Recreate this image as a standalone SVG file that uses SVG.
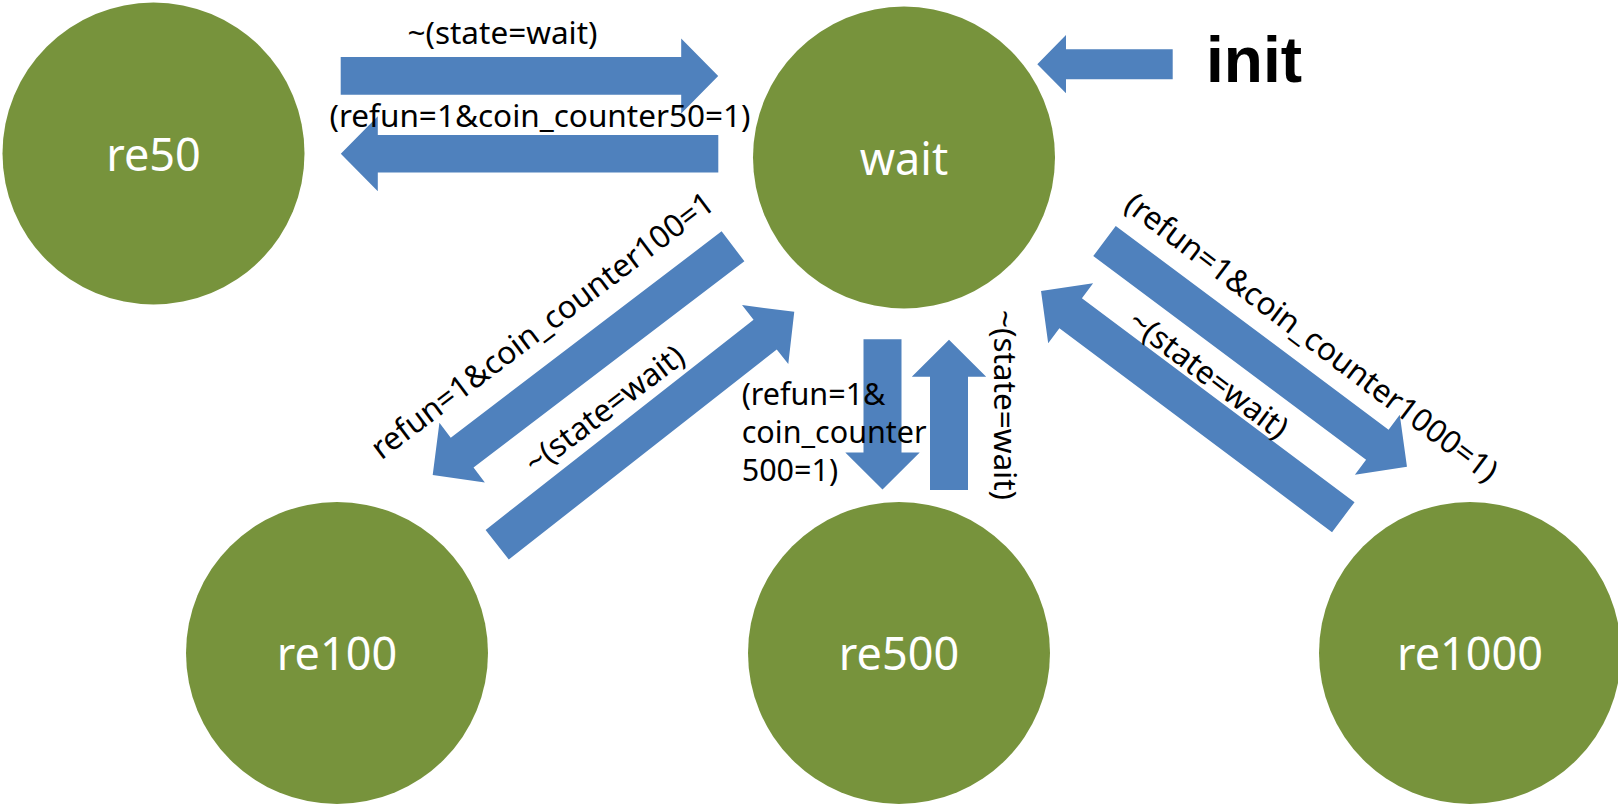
<svg xmlns="http://www.w3.org/2000/svg" width="1618" height="808" viewBox="0 0 1618 808">
<style>
.node{fill:#77933C;}
.nlabel{font-family:"Noto Sans","Open Sans",sans-serif;font-size:45px;fill:#FFFFFF;text-anchor:middle;}
.arr{fill:#4F81BD;}
.lbl{font-family:"Noto Sans","Open Sans",sans-serif;font-size:31.5px;fill:#000000;}
.mid{text-anchor:middle;}
.init{font-family:"Liberation Sans",Arial,sans-serif;font-size:64px;font-weight:bold;fill:#000000;}
</style>
<defs>
<polygon id="longArrow" points="0,-18.8 340.5,-18.8 340.5,-37.5 377.5,0 340.5,37.5 340.5,18.8 0,18.8"/>
<polygon id="shortArrow" points="0,-19 113.3,-19 113.3,-37.2 150.3,0 113.3,37.2 113.3,19 0,19"/>
</defs>
<rect x="0" y="0" width="1618" height="808" fill="#FFFFFF"/>
<g id="connectors">
<use href="#longArrow" class="arr" transform="translate(340.7,75.9)"/>
<use href="#longArrow" class="arr" transform="translate(718.3,153.7) rotate(180)"/>
<polygon class="arr" points="1172.7,49.3 1066,49.3 1066,35 1037.3,64.3 1066,93.3 1066,79.3 1172.7,79.3"/>
<use href="#shortArrow" class="arr" transform="translate(882.5,339.3) rotate(90)"/>
<use href="#shortArrow" class="arr" transform="translate(949,490) rotate(-90)"/>
<use href="#longArrow" class="arr" transform="translate(733,246.3) rotate(142.7)"/>
<use href="#longArrow" class="arr" transform="translate(497.2,544.7) rotate(-38.1)"/>
<use href="#longArrow" class="arr" transform="translate(1104.5,241) rotate(36.75)"/>
<use href="#longArrow" class="arr" transform="translate(1343.3,517.2) rotate(-143.2)"/>
<text class="lbl mid" x="502.5" y="44.3">~(state=wait)</text>
<text class="lbl mid" x="540" y="126.7">(refun=1&amp;coin_counter50=1)</text>
<text class="lbl mid" transform="translate(549,334) rotate(-37)">refun=1&amp;coin_counter100=1</text>
<text class="lbl mid" transform="translate(611,418) rotate(-37)">~(state=wait)</text>
<text class="lbl mid" transform="translate(1305,346) rotate(37)">(refun=1&amp;coin_counter1000=1)</text>
<text class="lbl mid" transform="translate(1202,383) rotate(37)">~(state=wait)</text>
<text class="lbl mid" transform="translate(994,405) rotate(90)">~(state=wait)</text>
<text class="lbl" style="font-size:30.5px" x="741.7" y="405"><tspan x="741.7" y="405">(refun=1&amp;</tspan><tspan x="741.7" y="443.3">coin_counter</tspan><tspan x="741.7" y="481">500=1)</tspan></text>
<text class="init" x="1206" y="81.7">init</text>
</g>
<g id="node-re50">
<circle class="node" cx="153.5" cy="153.5" r="151"/>
<text class="nlabel" x="153.5" y="171">re50</text>
</g>
<g id="node-wait">
<circle class="node" cx="904" cy="157.5" r="151"/>
<text class="nlabel" x="904" y="175">wait</text>
</g>
<g id="node-re100">
<circle class="node" cx="337" cy="653" r="151"/>
<text class="nlabel" x="337" y="670">re100</text>
</g>
<g id="node-re500">
<circle class="node" cx="899" cy="653" r="151"/>
<text class="nlabel" x="899" y="670">re500</text>
</g>
<g id="node-re1000">
<circle class="node" cx="1470" cy="653" r="151"/>
<text class="nlabel" x="1470" y="670">re1000</text>
</g>
</svg>
